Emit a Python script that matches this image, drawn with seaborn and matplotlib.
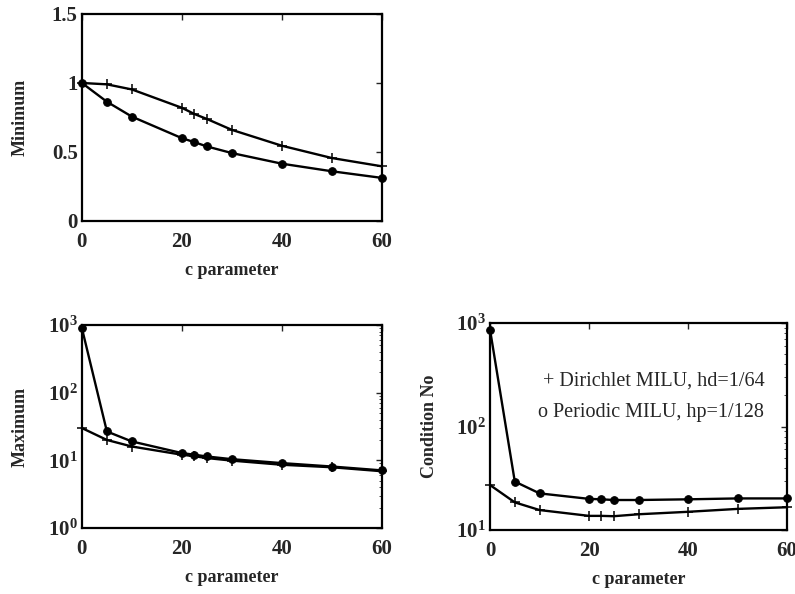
import numpy as np
import pandas as pd
import matplotlib
matplotlib.use("Agg")
import matplotlib.pyplot as plt
import matplotlib.ticker as mticker
import seaborn as sns

# data
c_param = [0, 5, 10, 20, 22.5, 25, 30, 40, 50, 60]

min_dirichlet = [1.0, 0.99, 0.953, 0.82, 0.775, 0.739, 0.66, 0.545, 0.456, 0.396]
min_periodic = [1.0, 0.864, 0.756, 0.60, 0.571, 0.54, 0.492, 0.415, 0.36, 0.312]

max_dirichlet = [30, 20, 16, 12.1, 11.5, 10.8, 9.9, 8.6, 7.9, 6.9]
max_periodic = [900, 26.7, 19, 12.8, 12.1, 11.4, 10.4, 9.1, 8.1, 7.1]

cond_dirichlet = [27.2, 18.5, 15.6, 13.7, 13.7, 13.6, 14.2, 15.0, 16.0, 16.6]
cond_periodic = [861, 29.4, 22.6, 20.0, 19.8, 19.5, 19.5, 19.8, 20.2, 20.2]

legend_lines = ["+ Dirichlet MILU, hd=1/64", "o Periodic MILU, hp=1/128"]

sns.set_style("white")
plt.rcParams['font.family'] = ['Liberation Serif', 'DejaVu Serif']
plt.rcParams['mathtext.fontset'] = 'custom'
plt.rcParams['mathtext.rm'] = 'Liberation Serif:bold'
plt.rcParams['mathtext.default'] = 'rm'

fig = plt.figure(figsize=(7.95, 5.94), dpi=100)
ax_min = fig.add_axes([0.103, 0.628, 0.3774, 0.3485])
ax_max = fig.add_axes([0.103, 0.1111, 0.3774, 0.3418])
ax_cond = fig.add_axes([0.6164, 0.1077, 0.3736, 0.3485])


def draw(ax, y_d, y_p):
    df = pd.DataFrame({"c": c_param, "dir": y_d, "per": y_p})
    sns.lineplot(data=df, x="c", y="dir", ax=ax, color="black", lw=1.7,
                 marker="+", markersize=7, mew=1.1, mec="black", clip_on=False)
    sns.lineplot(data=df, x="c", y="per", ax=ax, color="black", lw=1.7,
                 marker="o", markersize=5.5, mec="black", mfc="black", clip_on=False)


def style(ax, ylabel, ypad):
    ax.set_xlim(0, 60)
    ax.set_xticks([0, 20, 40, 60])
    ax.set_xlabel("c parameter", fontsize=13, fontweight="bold", labelpad=7)
    ax.set_ylabel(ylabel, fontsize=13, fontweight="bold", labelpad=ypad)
    ax.tick_params(direction="in", top=True, right=True, labelsize=15,
                   length=4, width=1)
    ax.tick_params(axis="x", pad=8)
    ax.tick_params(axis="y", pad=3)
    ax.tick_params(which="minor", direction="in", right=True, length=2.5)
    for lab in ax.get_xticklabels() + ax.get_yticklabels():
        lab.set_fontweight("bold")
    for sp in ax.spines.values():
        sp.set_linewidth(1.6)
        sp.set_color("black")


draw(ax_min, min_dirichlet, min_periodic)
ax_min.set_ylim(0, 1.5)
ax_min.set_yticks([0, 0.5, 1, 1.5])
ax_min.yaxis.set_major_formatter(mticker.FuncFormatter(lambda v, p: "%g" % v))
style(ax_min, "Minimum", 17)

draw(ax_max, max_dirichlet, max_periodic)
ax_max.set_yscale("log")
ax_max.set_ylim(1, 1000)
style(ax_max, "Maximum", 14)

draw(ax_cond, cond_dirichlet, cond_periodic)
ax_cond.set_yscale("log")
ax_cond.set_ylim(10, 1000)
style(ax_cond, "Condition No", 13)
ax_cond.text(0.178, 0.721, legend_lines[0], transform=ax_cond.transAxes,
             fontsize=14.5, va="center")
ax_cond.text(0.162, 0.566, legend_lines[1], transform=ax_cond.transAxes,
             fontsize=14.5, va="center")

fig.savefig("out.png", dpi=100)
